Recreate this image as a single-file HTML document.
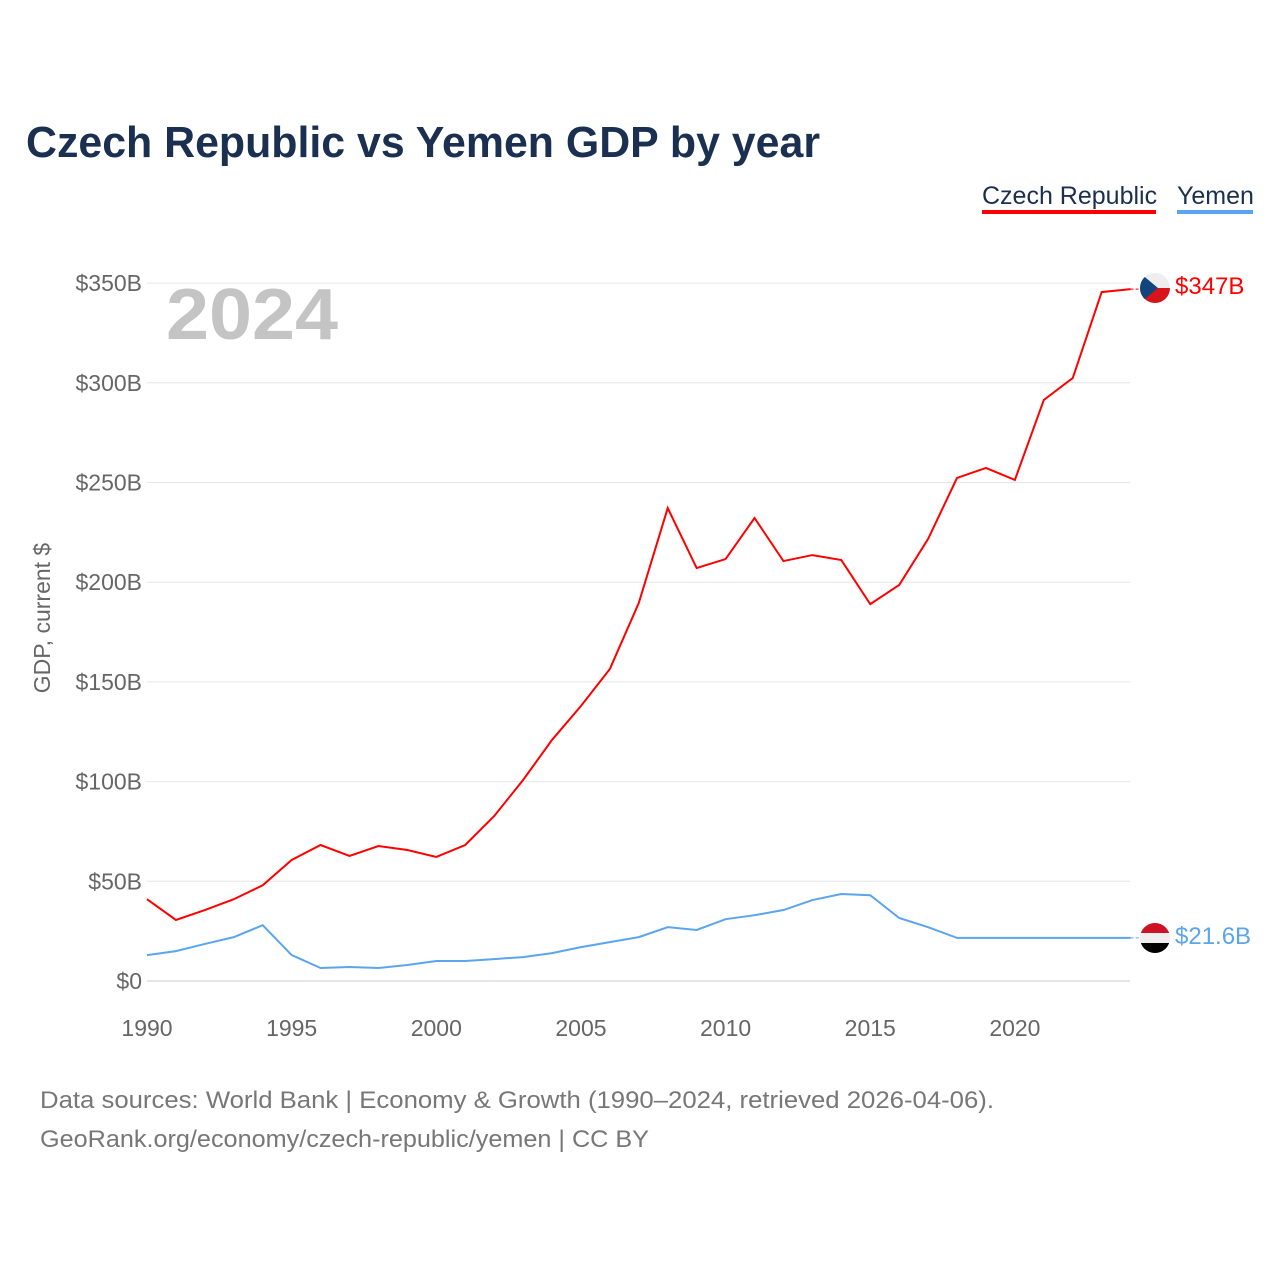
<!DOCTYPE html>
<html><head><meta charset="utf-8"><style>
body{margin:0;background:#fff;font-family:"Liberation Sans",sans-serif}
</style></head><body>
<svg width="1280" height="1280" xmlns="http://www.w3.org/2000/svg">
<text x="26" y="157" font-size="44" font-weight="bold" fill="#1b3050" textLength="794" lengthAdjust="spacingAndGlyphs">Czech Republic vs Yemen GDP by year</text>
<g><text x="982" y="204" font-size="25" fill="#1b3050">Czech Republic</text><rect x="982" y="210" width="174" height="4" fill="#ff0000"/></g>
<g><text x="1177" y="204" font-size="25" fill="#1b3050">Yemen</text><rect x="1177" y="210" width="76" height="4" fill="#5ba4ee"/></g>
<text x="166" y="339" font-size="72" font-weight="bold" fill="#c4c4c4" textLength="172" lengthAdjust="spacingAndGlyphs">2024</text>
<text transform="translate(50,618) rotate(-90)" text-anchor="middle" font-size="23" fill="#666">GDP, current $</text>
<g id="grid"></g><g id="xt"></g><g id="lines"></g>
<g><clipPath id="c1"><circle cx="1155" cy="288" r="15"/></clipPath><g clip-path="url(#c1)"><rect x="1140" y="273" width="30" height="15" fill="#eee"/><rect x="1140" y="288" width="30" height="15" fill="#d7141a"/><polygon points="1140,273 1158,288 1140,303" fill="#11457e"/></g></g>
<g><clipPath id="c2"><circle cx="1155" cy="938" r="15"/></clipPath><g clip-path="url(#c2)"><rect x="1140" y="923" width="30" height="10" fill="#ce1126"/><rect x="1140" y="933" width="30" height="10" fill="#eee"/><rect x="1140" y="943" width="30" height="10" fill="#000"/></g></g>
<text x="1175" y="294" font-size="24" fill="#ff0000">$347B</text>
<text x="1175" y="944" font-size="24" fill="#5ba4ee">$21.6B</text>
<text x="40" y="1108" font-size="24" fill="#777" textLength="954" lengthAdjust="spacingAndGlyphs">Data sources: World Bank | Economy &amp; Growth (1990–2024, retrieved 2026-04-06).</text>
<text x="40" y="1147" font-size="24" fill="#777" textLength="609" lengthAdjust="spacingAndGlyphs">GeoRank.org/economy/czech-republic/yemen | CC BY</text>
</svg>
<script>
const years=[1990,1991,1992,1993,1994,1995,1996,1997,1998,1999,2000,2001,2002,2003,2004,2005,2006,2007,2008,2009,2010,2011,2012,2013,2014,2015,2016,2017,2018,2019,2020,2021,2022,2023,2024];
const czech=[41,30.6,35.6,41,48,60.7,68.2,62.7,67.7,65.7,62.2,68.2,82.7,100.8,120.9,137.9,156.5,189.6,237.2,207.1,211.6,232.2,210.6,213.6,211.1,189,198.6,221.7,252.3,257.3,251.3,291.4,302.4,345.5,347];
const yemen=[13,15,18.6,22,28,13,6.5,7,6.5,8,10,10,11,12,14,17,19.5,22,27,25.6,31,33,35.6,40.6,43.6,43,31.6,27,21.6,21.6,21.6,21.6,21.6,21.6,21.6];
const yTicks=[0,50,100,150,200,250,300,350];
const yLabels=["$0","$50B","$100B","$150B","$200B","$250B","$300B","$350B"];
const xTicks=[1990,1995,2000,2005,2010,2015,2020];
const NS="http://www.w3.org/2000/svg";
const X=y=>147+(y-1990)*28.93, Y=v=>981-v*1.994;
function mk(t,a,p){const e=document.createElementNS(NS,t);for(const k in a)e.setAttribute(k,a[k]);p.appendChild(e);return e;}
const g=document.getElementById('grid');
yTicks.forEach((v,i)=>{
 const l=mk('line',{x1:147,x2:1130,y1:Y(v),y2:Y(v),stroke:i==0?'#ccc':'#e6e6e6','stroke-width':1},g);
 
 
 const t=mk('text',{x:142,y:Y(v)+8,'text-anchor':'end','font-size':23,fill:'#666'},g);t.textContent=yLabels[i];
 
 
});
const xt=document.getElementById('xt');
xTicks.forEach(v=>{const t=mk('text',{x:X(v),y:1036,'text-anchor':'middle','font-size':23,fill:'#666'},xt);t.textContent=v;
 
 });
const L=document.getElementById('lines');
[[czech,'#ff0000','czech-line'],[yemen,'#5ba4ee','yemen-line']].forEach(([d,c,n])=>{
 const p=mk('polyline',{points:d.map((v,i)=>X(years[i])+','+Y(v)).join(' '),fill:'none',stroke:c,'stroke-width':2},L);
 
 
 const last=d[d.length-1];
 mk('line',{x1:X(2024),x2:1140,y1:Y(last),y2:Y(last),stroke:c,'stroke-width':1,'stroke-dasharray':'3,2'},L);
});
</script>
</body></html>
